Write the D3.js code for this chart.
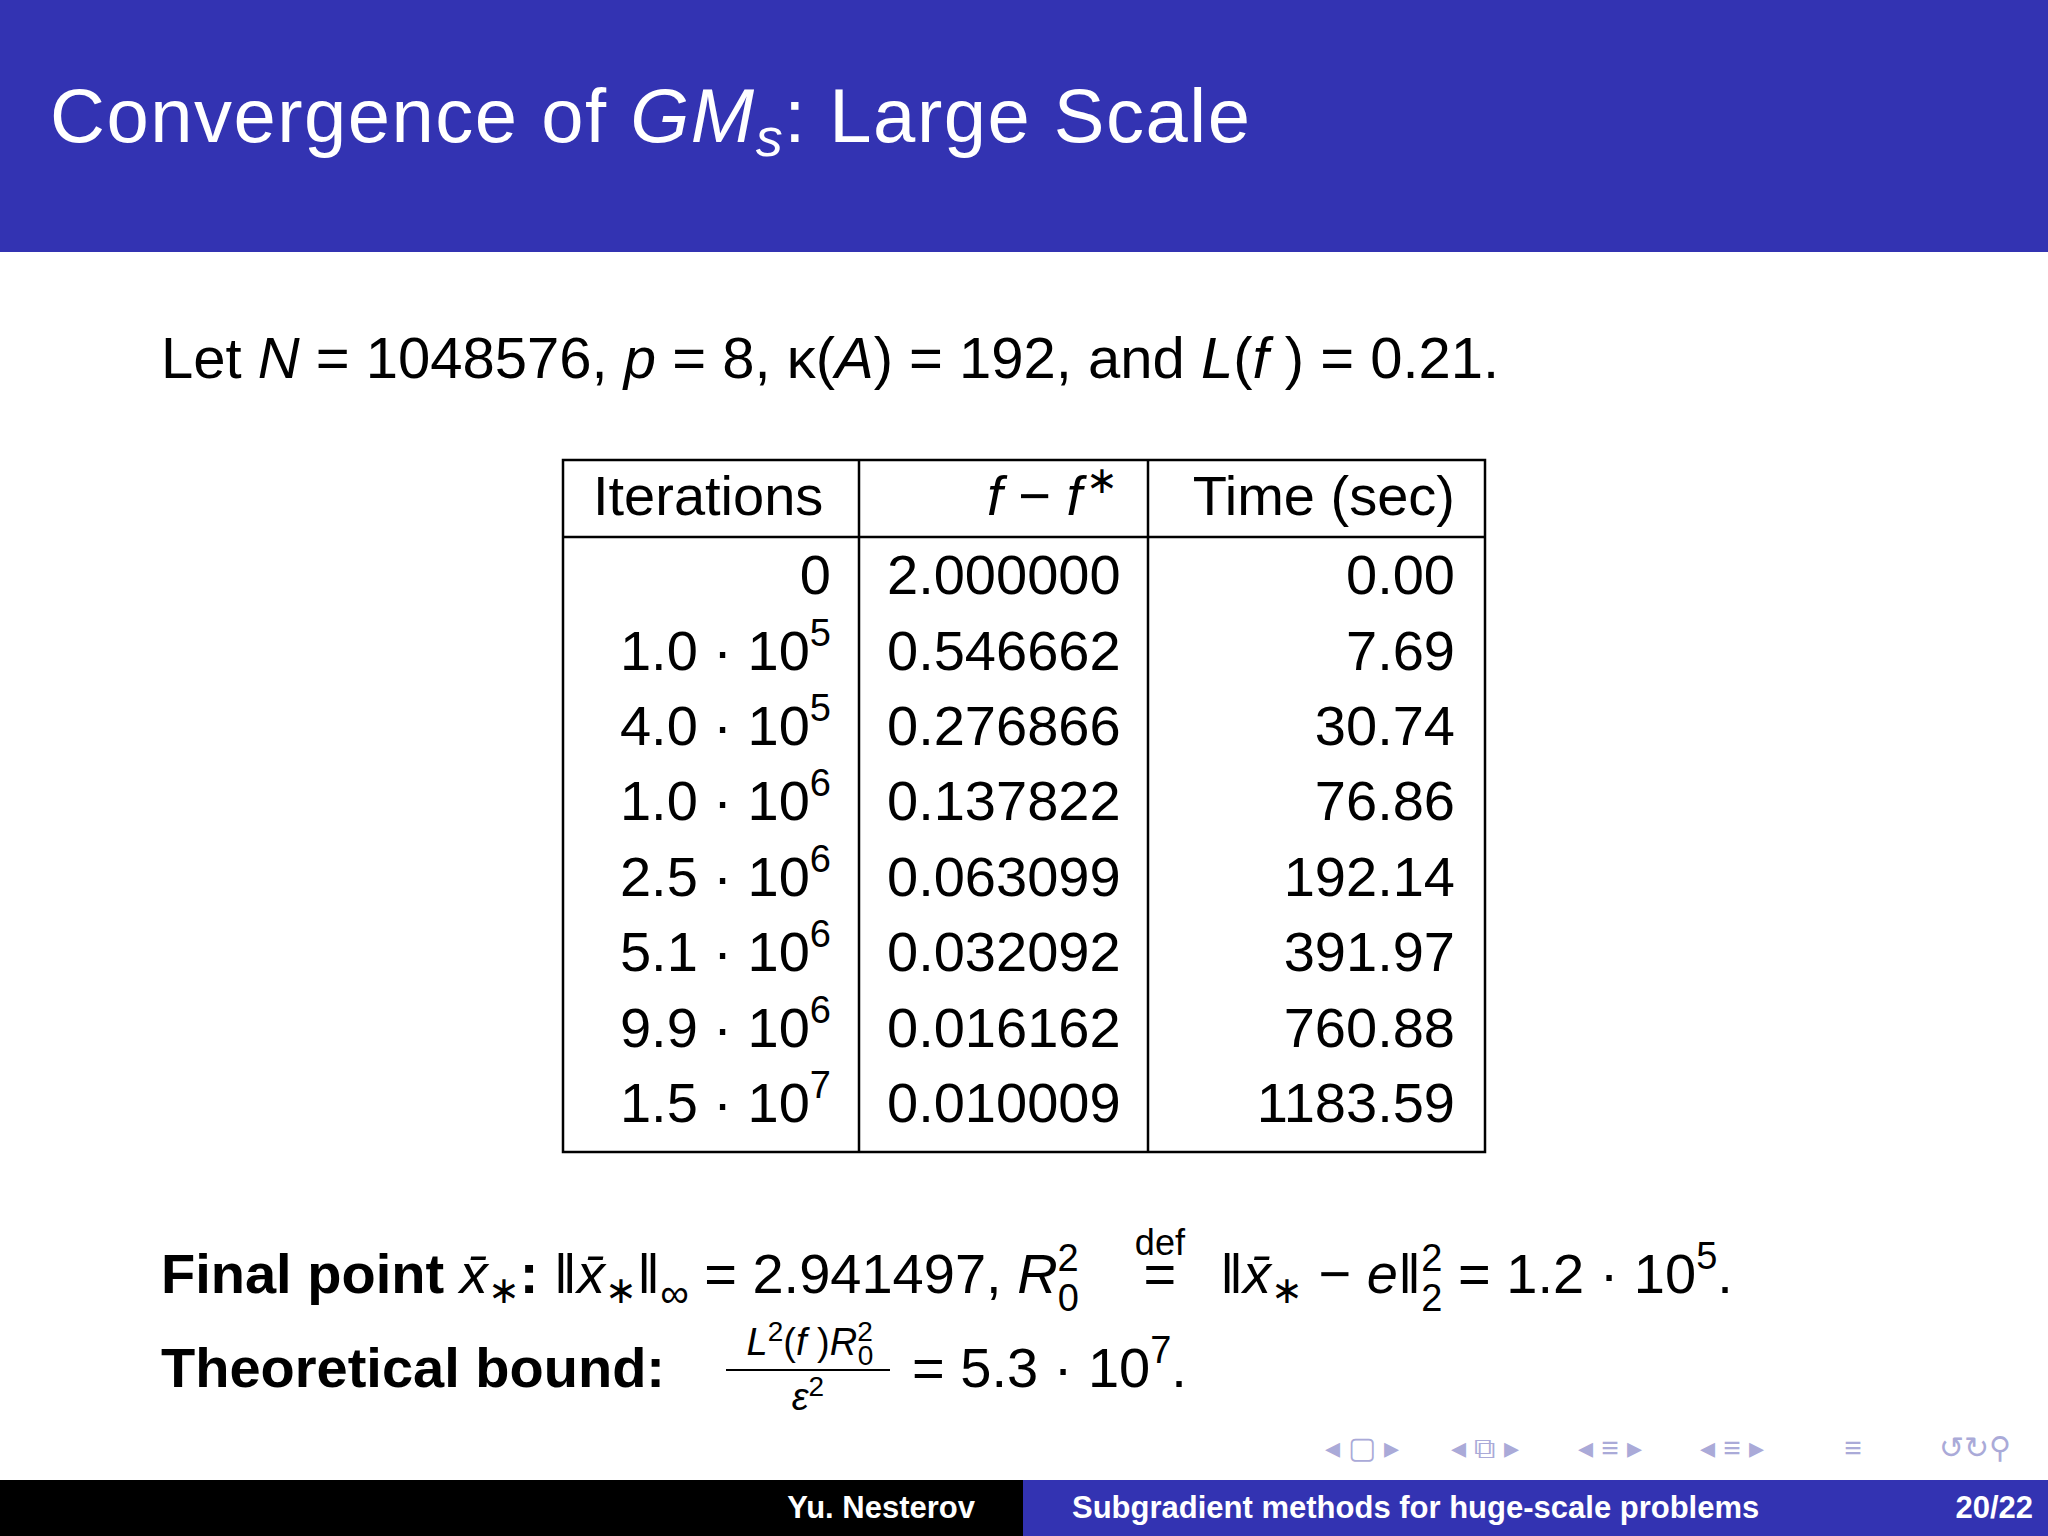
<!DOCTYPE html>
<html><head><meta charset="utf-8">
<script src="https://cdn.jsdelivr.net/npm/d3@7"></script>
<style>body{margin:0;background:#fff}svg{display:block}text{font-family:"Liberation Sans",sans-serif}</style>
</head><body>
<script>
// table data
var iterMant = ["", "1.0", "4.0", "1.0", "2.5", "5.1", "9.9", "1.5"];
var iterExp = ["", "5", "5", "6", "6", "6", "6", "7"];
var gap = ["2.000000", "0.546662", "0.276866", "0.137822", "0.063099", "0.032092", "0.016162", "0.010009"];
var times = ["0.00", "7.69", "30.74", "76.86", "192.14", "391.97", "760.88", "1183.59"];

var W = 2048, H = 1536;
var svg = d3.select("body").append("svg").attr("width", W).attr("height", H);

// header band
svg.append("rect").attr("width", W).attr("height", 252).attr("fill", "#3333B2");
var t = svg.append("text").attr("x", 50).attr("y", 142).attr("fill", "#fff").attr("font-size", 76).attr("letter-spacing", 1.5);
t.append("tspan").text("Convergence of ");
t.append("tspan").attr("font-style", "italic").text("GM");
t.append("tspan").attr("font-style", "italic").attr("font-size", 54).attr("dy", 14).text("s");
t.append("tspan").attr("dy", -14).text(":  Large Scale");

// intro line
var l = svg.append("text").attr("x", 161).attr("y", 378).attr("font-size", 58);
l.append("tspan").text("Let ");
l.append("tspan").attr("font-style", "italic").text("N");
l.append("tspan").text("  =  1048576, ");
l.append("tspan").attr("font-style", "italic").text("p");
l.append("tspan").text("  =  8, κ(");
l.append("tspan").attr("font-style", "italic").text("A");
l.append("tspan").text(")  =  192, and ");
l.append("tspan").attr("font-style", "italic").text("L");
l.append("tspan").text("(");
l.append("tspan").attr("font-style", "italic").text("f ");
l.append("tspan").text(")  =  0.21.");

// table
var tx0 = 563, tx1 = 859, tx2 = 1148, tx3 = 1485;
var tTop = 460, tHdr = 537, tBottom = 1152;
var y = d3.scaleBand().domain(d3.range(iterMant.length)).range([tHdr, tBottom - 12]);
var g = svg.append("g").attr("stroke", "#000").attr("stroke-width", 2.5);
g.append("rect").attr("x", tx0).attr("y", tTop).attr("width", tx3 - tx0).attr("height", tBottom - tTop).attr("fill", "none");
g.append("line").attr("x1", tx0).attr("x2", tx3).attr("y1", tHdr).attr("y2", tHdr);
[tx1, tx2].forEach(function (x) { g.append("line").attr("x1", x).attr("x2", x).attr("y1", tTop).attr("y2", tBottom); });

var fs = 56;
svg.append("text").attr("x", tx0 + 30).attr("y", 515).attr("font-size", fs).text("Iterations");
var hf = svg.append("text").attr("x", tx2 - 30).attr("y", 515).attr("font-size", fs).attr("text-anchor", "end");
hf.append("tspan").attr("font-style", "italic").text("f ");
hf.append("tspan").text(" −  ");
hf.append("tspan").attr("font-style", "italic").text("f");
hf.append("tspan").attr("font-size", 38).attr("dx", 4).attr("dy", -22).text("∗");
svg.append("text").attr("x", tx3 - 30).attr("y", 515).attr("font-size", fs).attr("text-anchor", "end").text("Time (sec)");

var rows = svg.selectAll("g.row").data(d3.range(iterMant.length)).join("g")
  .attr("transform", function (i) { return "translate(0," + (y(i) + y.bandwidth() * 0.76) + ")"; });
rows.append("text").attr("x", tx1 - 28).attr("font-size", fs).attr("text-anchor", "end").each(function (i) {
  var s = d3.select(this);
  if (!iterMant[i]) { s.text("0"); return; }
  s.append("tspan").text(iterMant[i] + " · 10");
  s.append("tspan").attr("font-size", 38).attr("dy", -24).text(iterExp[i]);
});
rows.append("text").attr("x", tx1 + 28).attr("font-size", fs).text(function (i) { return gap[i]; });
rows.append("text").attr("x", tx3 - 30).attr("font-size", fs).attr("text-anchor", "end").text(function (i) { return times[i]; });

// final point line, part A
var f1 = svg.append("text").attr("x", 161).attr("y", 1293).attr("font-size", 56);
f1.append("tspan").attr("font-weight", "bold").text("Final point ");
f1.append("tspan").attr("font-style", "italic").text("x̄");
f1.append("tspan").attr("font-size", 38).attr("dy", 10).text("∗");
f1.append("tspan").attr("dy", -10).attr("font-weight", "bold").text(":  ");
f1.append("tspan").text("‖");
f1.append("tspan").attr("font-style", "italic").text("x̄");
f1.append("tspan").attr("font-size", 38).attr("dy", 10).text("∗");
f1.append("tspan").attr("dy", -10).text("‖");
f1.append("tspan").attr("font-size", 40).attr("dy", 14).text("∞");
f1.append("tspan").attr("dy", -14).text("  =  2.941497,  ");
f1.append("tspan").attr("font-style", "italic").text("R");
f1.append("tspan").attr("font-size", 38).attr("dy", -22).text("2");
f1.append("tspan").attr("font-size", 38).attr("dx", -21).attr("dy", 40).text("0");
var aEnd = 161 + f1.node().getComputedTextLength();

// defined-equals sign
var eqX = aEnd + 60;
svg.append("text").attr("x", eqX).attr("y", 1293).attr("font-size", 56).attr("text-anchor", "middle").text("=");
svg.append("text").attr("x", eqX).attr("y", 1255).attr("font-size", 36).attr("font-family", "Liberation Serif").attr("text-anchor", "middle").text("def");

// part B
var f2 = svg.append("text").attr("x", eqX + 60).attr("y", 1293).attr("font-size", 56);
f2.append("tspan").text("‖");
f2.append("tspan").attr("font-style", "italic").text("x̄");
f2.append("tspan").attr("font-size", 38).attr("dy", 10).text("∗");
f2.append("tspan").attr("dy", -10).text("  −  ");
f2.append("tspan").attr("font-style", "italic").text("e");
f2.append("tspan").text("‖");
f2.append("tspan").attr("font-size", 38).attr("dy", -22).text("2");
f2.append("tspan").attr("font-size", 38).attr("dx", -21).attr("dy", 40).text("2");
f2.append("tspan").attr("dy", -18).text("  =  1.2 · 10");
f2.append("tspan").attr("font-size", 38).attr("dy", -24).text("5");
f2.append("tspan").attr("dy", 24).text(".");

// theoretical bound
svg.append("text").attr("x", 161).attr("y", 1387).attr("font-size", 56).attr("font-weight", "bold").text("Theoretical bound:");
var num = svg.append("text").attr("x", 810).attr("y", 1355).attr("font-size", 38).attr("text-anchor", "middle");
num.append("tspan").attr("font-style", "italic").text("L");
num.append("tspan").attr("font-size", 28).attr("dy", -14).text("2");
num.append("tspan").attr("dy", 14).text("(");
num.append("tspan").attr("font-style", "italic").text("f ");
num.append("tspan").text(")");
num.append("tspan").attr("font-style", "italic").text("R");
num.append("tspan").attr("font-size", 28).attr("dy", -14).text("2");
num.append("tspan").attr("font-size", 28).attr("dx", -15).attr("dy", 24).text("0");
svg.append("line").attr("x1", 726).attr("x2", 890).attr("y1", 1370).attr("y2", 1370).attr("stroke", "#000").attr("stroke-width", 2);
var den = svg.append("text").attr("x", 808).attr("y", 1410).attr("font-size", 38).attr("text-anchor", "middle");
den.append("tspan").attr("font-style", "italic").text("ε");
den.append("tspan").attr("font-size", 28).attr("dy", -14).text("2");
var tb = svg.append("text").attr("x", 912).attr("y", 1387).attr("font-size", 56);
tb.append("tspan").text("=  5.3 · 10");
tb.append("tspan").attr("font-size", 38).attr("dy", -24).text("7");
tb.append("tspan").attr("dy", 24).text(".");

// navigation symbols
var navs = ["◂ ▢ ▸", "◂ ⧉ ▸", "◂ ≡ ▸", "◂ ≡ ▸", "≡", "↺↻⚲"];
var navX = [1362, 1485, 1610, 1732, 1853, 1975];
navs.forEach(function (s, i) {
  svg.append("text").attr("x", navX[i]).attr("y", 1458).attr("font-size", 30).attr("fill", "#aaaad8").attr("text-anchor", "middle").text(s);
});

// footer
svg.append("rect").attr("y", 1480).attr("width", 1023).attr("height", 56).attr("fill", "#000");
svg.append("rect").attr("x", 1023).attr("y", 1480).attr("width", W - 1023).attr("height", 56).attr("fill", "#3333B2");
svg.append("text").attr("x", 975).attr("y", 1518).attr("font-size", 31).attr("font-weight", "bold").attr("fill", "#fff").attr("text-anchor", "end").text("Yu. Nesterov");
svg.append("text").attr("x", 1072).attr("y", 1518).attr("font-size", 31).attr("font-weight", "bold").attr("fill", "#fff").text("Subgradient methods for huge-scale problems");
svg.append("text").attr("x", 2033).attr("y", 1518).attr("font-size", 31).attr("font-weight", "bold").attr("fill", "#fff").attr("text-anchor", "end").text("20/22");
</script>
</body></html>
